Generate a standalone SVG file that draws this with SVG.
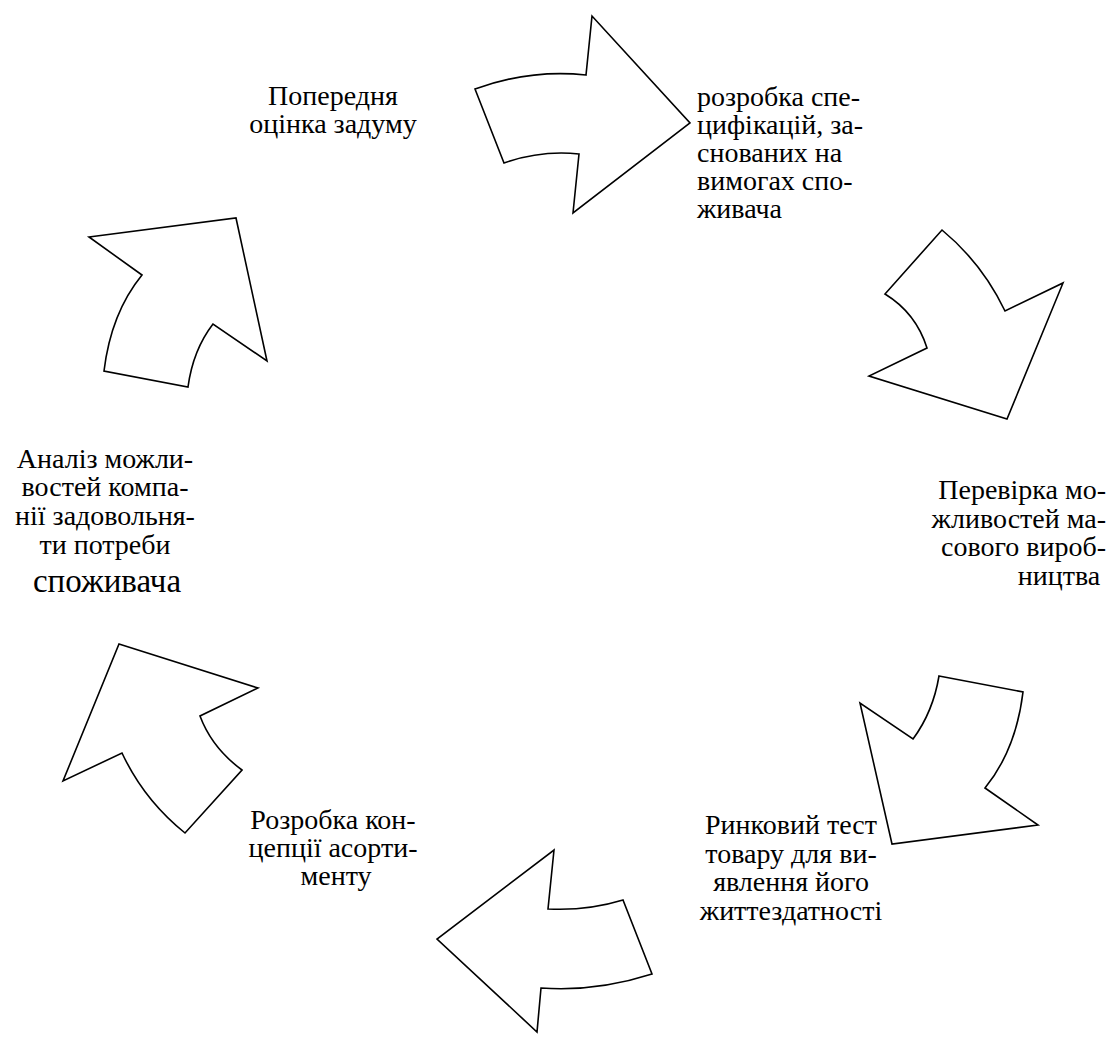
<svg xmlns="http://www.w3.org/2000/svg" width="1114" height="1044" viewBox="0 0 1114 1044">
<style>
.a{fill:#fff;stroke:#000;stroke-width:1.6;stroke-linejoin:miter}
.t{font-family:'Liberation Serif','Times New Roman','DejaVu Serif',serif;font-size:28px;fill:#000}
.m{text-anchor:middle}
.e{text-anchor:end}
</style>
<rect width="1114" height="1044" fill="#fff"/>
<g id="connectors">
<path id="arrow1" class="a" d="M475,89 Q530,69 586,75 L592,16 L690,123 L573,213 L579,154 Q541,150 504,163 Z"/>
<path id="arrow2" class="a" d="M942,230 Q982,263 1005,311 L1063,283 L1007,419 L869,376 L927,348 Q916,313 885,294 Z"/>
<path id="arrow3" class="a" d="M939,676 L1023,692 Q1016,750 985,788 L1038,825 L892,844 L860,703 L913,739 Q933,712 939,676 Z"/>
<path id="arrow4" class="a" d="M554,850 L548,909 Q587,911 623,900 L652,974 Q596,992 541,988 L537,1032 L437,939 Z"/>
<path id="arrow5" class="a" d="M119,644 L258,688 L200,716 Q212,748 242,770 L185,833 Q144,800 122,753 L63,781 Z"/>
<path id="arrow6" class="a" d="M89,237 L236,218 L267,361 L213,324 Q193,350 188,387 L104,371 Q111,313 142,275 Z"/>
</g>
<g class="t" font-family="Liberation Serif, Times New Roman, serif">
<g id="node1">
<text class="m" x="333" y="105">Попередня</text>
<text class="m" x="333" y="133">оцінка задуму</text>
</g>
<g id="node2">
<text x="697" y="106">розробка спе-</text>
<text x="697" y="134">цифікацій, за-</text>
<text x="697" y="162">снованих на</text>
<text x="697" y="190">вимогах спо-</text>
<text x="697" y="218">живача</text>
</g>
<g id="node3">
<text class="e" x="1106" y="499">Перевірка мо-</text>
<text class="e" x="1106" y="528">жливостей ма-</text>
<text class="e" x="1106" y="556">сового вироб-</text>
<text class="m" x="1059" y="585">ництва</text>
</g>
<g id="node4">
<text class="m" x="791" y="834">Ринковий тест</text>
<text class="m" x="791" y="863">товару для ви-</text>
<text class="m" x="791" y="891">явлення його</text>
<text class="m" x="791" y="920">життездатності</text>
</g>
<g id="node5">
<text class="m" x="333" y="829">Розробка кон-</text>
<text class="m" x="333" y="857">цепції асорти-</text>
<text class="m" x="336" y="885">менту</text>
</g>
<g id="node6">
<text class="m" x="105" y="468">Аналіз можли-</text>
<text class="m" x="105" y="496">востей компа-</text>
<text class="m" x="105" y="525">нії задовольня-</text>
<text class="m" x="105" y="554">ти потреби</text>
<text class="m" x="107" y="592" style="font-size:33px">споживача</text>
</g>
</g>
</svg>
